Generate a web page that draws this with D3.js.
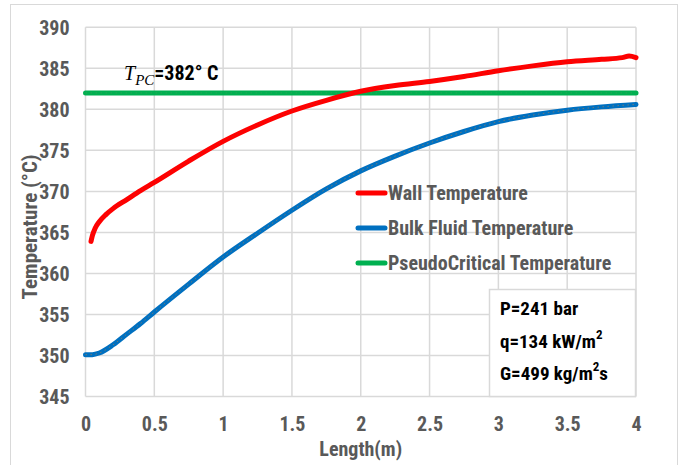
<!DOCTYPE html>
<html>
<head>
<meta charset="utf-8">
<script src="https://cdn.jsdelivr.net/npm/d3@7"></script>
<style>
  html, body { margin: 0; padding: 0; background: #fff; }
  svg { display: block; }
  .nar { font-family: "Liberation Sans Narrow", "Arial Narrow", "Roboto Condensed", sans-serif; font-weight: bold; }
</style>
</head>
<body>
<svg id="chart" width="680" height="465"></svg>
<script>
// ---- data ----
const wallLength = [0.04, 0.05, 0.07, 0.1, 0.15, 0.2, 0.3, 0.4, 0.5, 0.75, 1.0, 1.25, 1.5, 1.75, 2.0, 2.25, 2.5, 2.75, 3.0, 3.25, 3.5, 3.75, 3.9, 3.95, 4.0];
const wallTemp   = [363.9, 364.6, 365.5, 366.3, 367.2, 367.9, 369.0, 370.1, 371.1, 373.7, 376.1, 378.1, 379.8, 381.1, 382.2, 382.9, 383.4, 384.0, 384.7, 385.3, 385.8, 386.1, 386.3, 386.5, 386.3];
const bulkLength = [0.0, 0.05, 0.1, 0.2, 0.3, 0.4, 0.5, 0.75, 1.0, 1.25, 1.5, 1.75, 2.0, 2.25, 2.5, 2.75, 3.0, 3.25, 3.5, 3.75, 4.0];
const bulkTemp   = [350.1, 350.1, 350.3, 351.3, 352.6, 353.9, 355.3, 358.7, 362.0, 364.9, 367.7, 370.3, 372.5, 374.3, 375.9, 377.3, 378.5, 379.3, 379.9, 380.3, 380.6];
const pcLength = [0, 4];
const pcTemp   = [382, 382];
const xTicks = [0, 0.5, 1, 1.5, 2, 2.5, 3, 3.5, 4];
const yTicks = [345, 350, 355, 360, 365, 370, 375, 380, 385, 390];
const seriesNames = ["Wall Temperature", "Bulk Fluid Temperature", "PseudoCritical Temperature"];
const seriesColors = ["#ff0000", "#0070c0", "#00b050"];
const dotColors = ["#b03030", "#c8823c", "#4c9a5c"];
const paramLines = [["P=241 bar", ""], ["q=134 kW/m", "2", ""], ["G=499 kg/m", "2", "s"]];

const svg = d3.select("#chart");
const x = d3.scaleLinear().domain([0, 4]).range([85.5, 636]);
const y = d3.scaleLinear().domain([345, 390]).range([396.5, 27.3]);

// outer frame
svg.append("rect").attr("x", 10.5).attr("y", 4.5).attr("width", 667).attr("height", 480)
  .attr("fill", "#fff").attr("stroke", "#d9d9d9").attr("stroke-width", 1);

// grid
const grid = svg.append("g");
grid.selectAll(".hg").data(yTicks).join("line")
  .attr("x1", x(0)).attr("x2", x(4)).attr("y1", d => y(d)).attr("y2", d => y(d))
  .attr("stroke", "#d9d9d9").attr("stroke-width", 1.5);
grid.selectAll(".vg").data(xTicks).join("line")
  .attr("y1", y(345)).attr("y2", y(390)).attr("x1", d => x(d)).attr("x2", d => x(d))
  .attr("stroke", "#d9d9d9").attr("stroke-width", 1.5);

// axes (labels via d3 axes)
const xAxis = svg.append("g").attr("transform", `translate(0,${y(345)})`)
  .call(d3.axisBottom(x).tickValues(xTicks).tickSize(0).tickPadding(20).tickFormat(d3.format("")));
const yAxis = svg.append("g").attr("transform", `translate(${x(0)},0)`)
  .call(d3.axisLeft(y).tickValues(yTicks).tickSize(0).tickPadding(16));
[xAxis, yAxis].forEach(a => {
  a.select(".domain").remove();
  a.selectAll("text").attr("class", "nar").attr("font-size", 20).attr("fill", "#595959");
});
xAxis.selectAll("text").attr("dy", 0).attr("y", 34);
yAxis.selectAll("text").attr("dy", "0.35em");

// lines
const line = d3.line().x(d => x(d[0])).y(d => y(d[1])).curve(d3.curveMonotoneX);
const series = [
  d3.zip(wallLength, wallTemp),
  d3.zip(bulkLength, bulkTemp),
  d3.zip(pcLength, pcTemp)
];
[2, 1, 0].forEach(i => {
  svg.append("path").datum(series[i]).attr("d", line)
    .attr("fill", "none").attr("stroke", seriesColors[i]).attr("stroke-width", 5)
    .attr("stroke-linecap", "round").attr("stroke-linejoin", "round");
  svg.append("path").datum(series[i]).attr("d", line)
    .attr("fill", "none").attr("stroke", dotColors[i]).attr("stroke-width", 1)
    .attr("stroke-dasharray", "1.5,3.5").attr("opacity", 0.55);
});

// T_PC label
const tpc = svg.append("text").attr("x", 124).attr("y", 80).attr("fill", "#000");
tpc.append("tspan").attr("font-family", "'Liberation Serif', serif").attr("font-style", "italic").attr("font-size", 20).text("T");
tpc.append("tspan").attr("font-family", "'Liberation Serif', serif").attr("font-style", "italic").attr("font-size", 15).attr("dy", 5).text("PC");
tpc.append("tspan").attr("class", "nar").attr("font-size", 20).attr("dy", -5).text("=382° C");

// legend
const legY = [193, 228, 263];
seriesNames.forEach((name, i) => {
  svg.append("line").attr("x1", 358).attr("x2", 385).attr("y1", legY[i]).attr("y2", legY[i])
    .attr("stroke", seriesColors[i]).attr("stroke-width", 5).attr("stroke-linecap", "round");
  svg.append("text").attr("class", "nar").attr("x", 388).attr("y", legY[i]).attr("dy", "0.36em")
    .attr("font-size", 20).attr("fill", "#595959").text(name);
});

// parameter box
svg.append("rect").attr("x", 489.5).attr("y", 289.5).attr("width", 146).attr("height", 107)
  .attr("fill", "#fff").attr("stroke", "#d9d9d9").attr("stroke-width", 1.5);
const pY = [315, 348, 380];
paramLines.forEach((parts, i) => {
  const t = svg.append("text").attr("class", "nar").attr("x", 500).attr("y", pY[i])
    .attr("font-size", 19).attr("fill", "#000");
  t.append("tspan").text(parts[0]);
  if (parts.length > 2) {
    t.append("tspan").attr("font-size", 13).attr("dy", -9).text(parts[1]);
    t.append("tspan").attr("dy", 9).text(parts[2]);
  }
});

// axis titles
svg.append("text").attr("class", "nar").attr("x", x(2)).attr("y", 456).attr("text-anchor", "middle")
  .attr("font-size", 20).attr("fill", "#595959").text("Length(m)");
svg.append("text").attr("class", "nar").attr("transform", "translate(37,227) rotate(-90)")
  .attr("text-anchor", "middle").attr("font-size", 21).attr("fill", "#595959").text("Temperature (°C)");
</script>
</body>
</html>
